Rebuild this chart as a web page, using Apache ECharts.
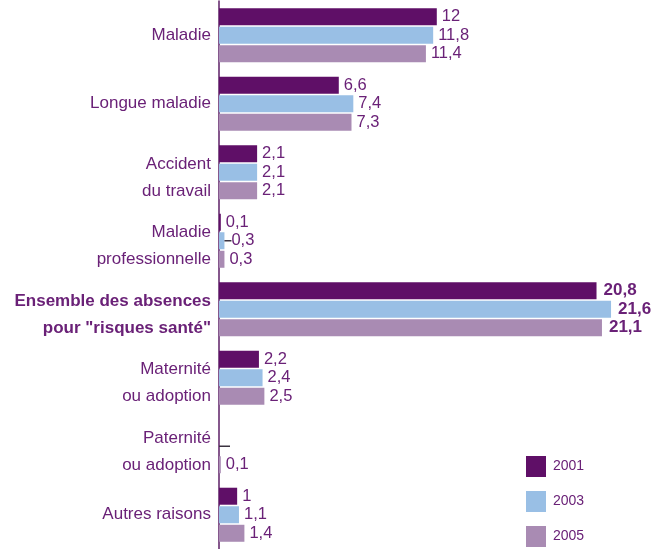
<!DOCTYPE html>
<html>
<head>
<meta charset="utf-8">
<script src="https://cdn.jsdelivr.net/npm/echarts@6/dist/echarts.min.js"></script>
<style>
html,body{margin:0;padding:0;background:#fff;}
#c{width:662px;height:549px;}
</style>
</head>
<body>
<div id="c"></div>
<script>
const categories = [
  'Maladie',
  'Longue maladie',
  'Accident\ndu travail',
  'Maladie\nprofessionnelle',
  'Ensemble des absences\npour "risques santé"',
  'Maternité\nou adoption',
  'Paternité\nou adoption',
  'Autres raisons'
];
const seriesNames = ['2001', '2003', '2005'];
const values2001 = [12, 6.6, 2.1, 0.1, 20.8, 2.2, null, 1];
const values2003 = [11.8, 7.4, 2.1, 0.3, 21.6, 2.4, 0, 1.1];
const values2005 = [11.4, 7.3, 2.1, 0.3, 21.1, 2.5, 0.1, 1.4];

const colors = ['#5f0f67', '#99bfe5', '#a98bb3'];
const textColor = '#6a2177';
const FONT = '"Liberation Sans", Arial, sans-serif';
const totalIdx = 4;

function fmt(v) { return v == null ? '' : String(v).replace('.', ','); }

function buildData(vals, sIdx) {
  return vals.map((v, i) => {
    const item = { value: v };
    if (i === totalIdx) {
      item.label = { fontWeight: 'bold', fontSize: 17, distance: 7 };
    }
    if (v === 0) {
      item.label = { distance: 0, formatter: '{d| }', rich: { d: { width: 11, height: 1.5, backgroundColor: '#3b3340', fontSize: 1 } } };
    } else if (sIdx === 1 && v !== null && v > 0 && v < 0.5) {
      item.label = { distance: 0, formatter: () => '{d| }{v|' + fmt(v) + '}', rich: { d: { width: 7, height: 1.5, backgroundColor: '#3b3340', fontSize: 1 }, v: { fontSize: 16.5, color: textColor, fontFamily: FONT } } };
    }
    return item;
  });
}

const yData = categories.map(c => {
  const o = { value: c };
  if (c.indexOf('\n') >= 0) o.textStyle = { padding: [11, 0, 0, 0] };
  return o;
});

const chart = echarts.init(document.getElementById('c'), null, { renderer: 'canvas' });
const allVals = [values2001, values2003, values2005];
chart.setOption({
  animation: false,
  textStyle: { fontFamily: FONT },
  grid: { left: 219, right: 7.4, top: 1, height: 550, containLabel: false },
  legend: {
    data: seriesNames,
    orient: 'vertical',
    left: 526,
    top: 456,
    padding: 0,
    itemWidth: 20,
    itemHeight: 21,
    itemGap: 14,
    icon: 'rect',
    textStyle: { fontSize: 14, color: textColor, fontFamily: FONT, padding: [0, 0, 0, 2] }
  },
  xAxis: {
    type: 'value', min: 0, max: 24,
    show: false,
    splitLine: { show: false }
  },
  yAxis: {
    type: 'category',
    inverse: true,
    data: yData,
    axisLine: { show: true, lineStyle: { color: '#5d1f66', width: 1.5 } },
    axisTick: { show: false },
    axisLabel: {
      fontSize: 17,
      color: textColor,
      fontFamily: FONT,
      margin: 8,
      lineHeight: 27,
      formatter: function (v) {
        if (v.indexOf('Ensemble') === 0) {
          return v.split('\n').map(s => '{b|' + s + '}').join('\n');
        }
        return v;
      },
      rich: {
        b: { fontWeight: 'bold', fontSize: 17, color: textColor, lineHeight: 27, fontFamily: FONT }
      }
    }
  },
  series: seriesNames.map((name, sIdx) => ({
    name: name,
    type: 'bar',
    barWidth: 17,
    barGap: '9%',
    itemStyle: { color: colors[sIdx] },
    label: {
      show: true,
      position: 'right',
      distance: 5,
      fontSize: 16.5,
      color: textColor,
      fontFamily: FONT,
      formatter: p => fmt(p.value)
    },
    data: buildData(allVals[sIdx], sIdx)
  }))
});
</script>
</body>
</html>
